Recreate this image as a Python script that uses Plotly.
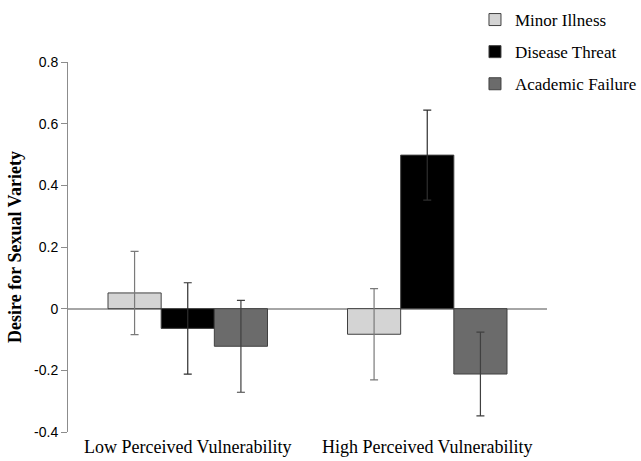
import plotly.graph_objects as go

categories = ["Low Perceived Vulnerability", "High Perceived Vulnerability"]
series_names = ["Minor Illness", "Disease Threat", "Academic Failure"]
minor_illness = [0.051, -0.083]
disease_threat = [-0.064, 0.498]
academic_failure = [-0.122, -0.212]
minor_err = [0.135, 0.148]
disease_err = [0.148, 0.146]
academic_err = [0.149, 0.136]
y_ticks = [-0.4, -0.2, 0, 0.2, 0.4, 0.6, 0.8]
y_tick_labels = ["-0.4", "-0.2", "0", "0.2", "0.4", "0.6", "0.8"]

values = [minor_illness, disease_threat, academic_failure]
errors = [minor_err, disease_err, academic_err]
fills = ["#d4d4d4", "#000000", "#6b6b6b"]
err_colors = ["#7a7a7a", "#2e2e2e", "#404040"]

fig = go.Figure()
for i, name in enumerate(series_names):
    fig.add_trace(go.Bar(
        x=categories, y=values[i], name=name,
        legendgroup=name,
        marker=dict(color=fills[i], line=dict(color="#404040", width=1)),
        error_y=dict(type="data", array=errors[i], visible=True,
                     color=err_colors[i], thickness=1.2, width=4),
    ))

fig.update_layout(
    width=641, height=461,
    paper_bgcolor="white", plot_bgcolor="white",
    margin=dict(l=68, r=94, t=62, b=29, autoexpand=False),
    barmode="group", bargap=0.334, bargroupgap=0,
    font=dict(family="Liberation Serif", color="#000000"),
    showlegend=True,
    legend=dict(x=0.741, y=1 - 2 / 461, xref="container", yref="container",
                xanchor="left", yanchor="top",
                font=dict(family="Liberation Serif", size=17, color="#000"),
                traceorder="grouped", tracegroupgap=7,
                bgcolor="rgba(0,0,0,0)", itemwidth=30),
    xaxis=dict(showline=False, showgrid=False, ticks="", automargin=False,
               tickfont=dict(family="Liberation Serif", size=18, color="#000"),
               ticklabelstandoff=2),
    yaxis=dict(range=[-0.4, 0.8], tickvals=y_ticks, ticktext=y_tick_labels,
               automargin=False,
               showgrid=False, showline=True, linecolor="#8c8c8c", linewidth=1,
               ticks="outside", ticklen=6, tickcolor="#8c8c8c",
               zeroline=True, zerolinecolor="#a6a6a6", zerolinewidth=1.5,
               tickfont=dict(family="Liberation Sans", size=14, color="#000"),
               title=dict(text="<b>Desire for Sexual Variety</b>",
                          font=dict(family="Liberation Serif", size=18, color="#000"),
                          standoff=7)),
)

fig.write_html("out.html", config={"displayModeBar": False},
               post_script="document.body.style.margin='0';")
